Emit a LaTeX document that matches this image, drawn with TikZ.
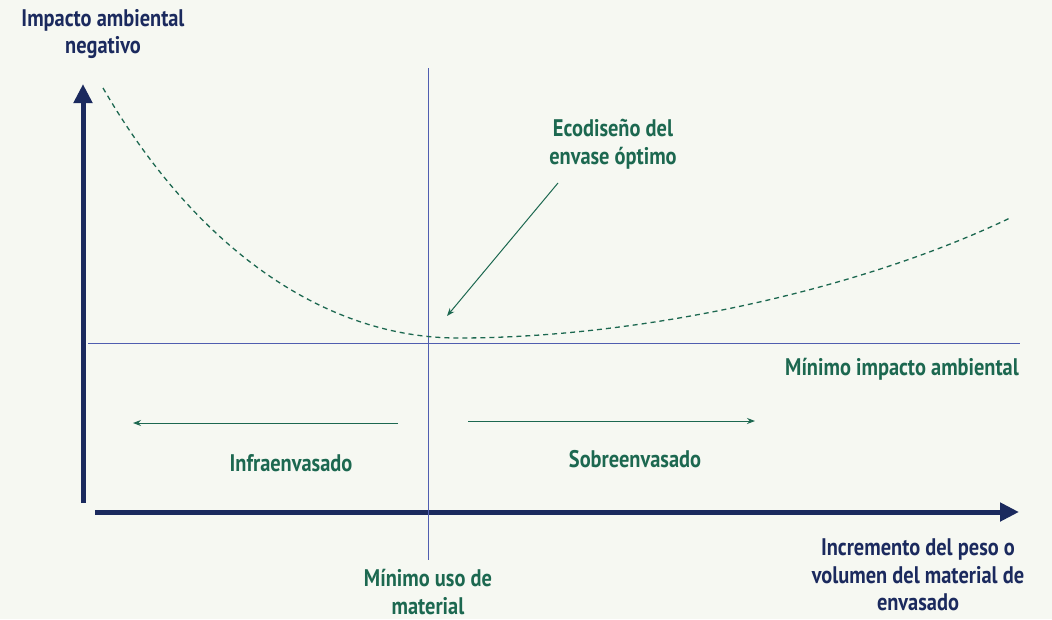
\documentclass[tikz,border=0pt]{standalone}
\usepackage{fontspec}
\usetikzlibrary{arrows.meta}
\setmainfont{PT Sans}[FakeStretch=0.85]
\definecolor{navy}{RGB}{27,42,94}
\definecolor{verde}{RGB}{28,104,80}
\definecolor{guia}{RGB}{80,94,176}
\definecolor{fondo}{RGB}{246,248,242}
\tikzset{>={Stealth[length=8pt, width=6pt]}}

\begin{document}
\begin{tikzpicture}[x=1pt, y=-1pt,
    eje/.style={navy, line width=5pt, -{Triangle[length=19pt, width=18pt]}},
    referencia/.style={guia, line width=0.9pt},
    flecha/.style={verde, line width=1pt, ->},
    rotulo/.style={font=\fontsize{24}{27.5}\bfseries, align=center, inner sep=0pt},
]
    \fill[fondo] (0,0) rectangle (1052,619);
    \useasboundingbox (0,0) rectangle (1052,619);
    % ejes
    \coordinate (O1) at (83,503);
    \coordinate (Y) at (83,84);
    \coordinate (O2) at (95,512);
    \coordinate (X) at (1019,512);
    \draw[eje] (O1) -- (Y);
    \draw[eje] (O2) -- (X);
    % lineas de referencia
    \coordinate (vA) at (428,68);
    \coordinate (vB) at (428,560);
    \coordinate (hA) at (88,343);
    \coordinate (hB) at (1020,343);
    \draw[referencia] (vA) -- (vB);
    \draw[referencia] (hA) -- (hB);
    % curva
    \coordinate (c0) at (103,88);
    \coordinate (cmin) at (458,338);
    \coordinate (c1) at (1010,218);
    \draw[verde, line width=1.3pt, dash pattern=on 5pt off 4pt] (c0) .. controls (200,255) and (330,338) .. (cmin)
        .. controls (640,338) and (860,290) .. (c1);
    % rotulos
    \node[rotulo, navy] (impacto) at (103,34) {Impacto ambiental\\negativo};
    \node[rotulo, navy] (incremento) at (918,575) {Incremento del peso o\\volumen del material de\\envasado};
    \node[rotulo, verde] (eco) at (613,144) {Ecodiseño del\\envase óptimo};
    \node[rotulo, verde] (minimp) at (902,369) {Mínimo impacto ambiental};
    \node[rotulo, verde] (minuso) at (428,592) {Mínimo uso de\\material};
    \node[rotulo, verde] (infra) at (291,463) {Infraenvasado};
    \node[rotulo, verde] (sobre) at (635,459) {Sobreenvasado};
    % flechas
    \coordinate (ecoA) at (558,183);
    \coordinate (ecoP) at (447,316);
    \coordinate (iA) at (398,423);
    \coordinate (iB) at (133,423);
    \coordinate (sA) at (468,421);
    \coordinate (sB) at (755,421);
    \draw[flecha] (ecoA) -- (ecoP);
    \draw[flecha] (iA) -- (iB);
    \draw[flecha] (sA) -- (sB);
\end{tikzpicture}
\end{document}
